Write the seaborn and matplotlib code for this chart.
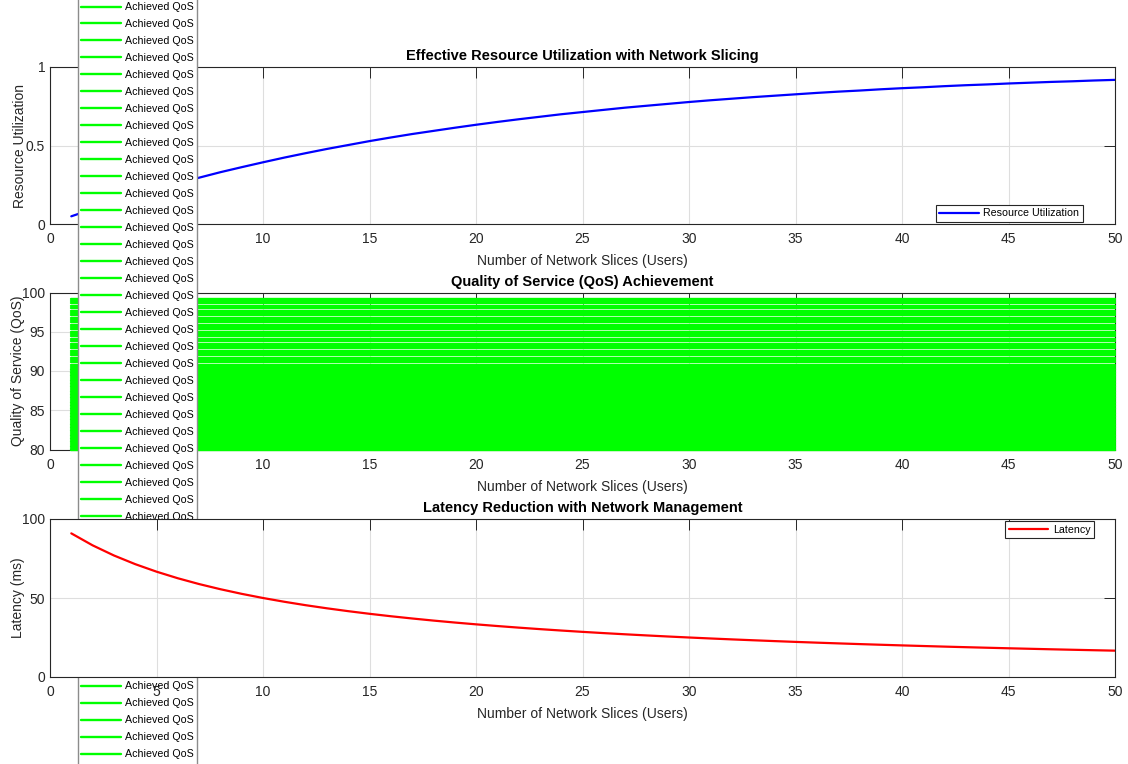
import numpy as np
import pandas as pd
import matplotlib
matplotlib.use("Agg")
import matplotlib.pyplot as plt
import seaborn as sns

# ---------------- data ----------------
slices = list(range(1, 51))

resource_util = [0.049, 0.095, 0.139, 0.181, 0.221, 0.259, 0.295, 0.330, 0.362, 0.393,
                 0.423, 0.451, 0.478, 0.503, 0.528, 0.551, 0.573, 0.593, 0.613, 0.632,
                 0.650, 0.667, 0.683, 0.699, 0.713, 0.727, 0.741, 0.753, 0.765, 0.777,
                 0.788, 0.798, 0.808, 0.817, 0.826, 0.835, 0.843, 0.850, 0.858, 0.865,
                 0.871, 0.878, 0.884, 0.889, 0.895, 0.900, 0.905, 0.909, 0.914, 0.918]

latency_ms = [90.91, 83.33, 76.92, 71.43, 66.67, 62.50, 58.82, 55.56, 52.63, 50.00,
              47.62, 45.45, 43.48, 41.67, 40.00, 38.46, 37.04, 35.71, 34.48, 33.33,
              32.26, 31.25, 30.30, 29.41, 28.57, 27.78, 27.03, 26.32, 25.64, 25.00,
              24.39, 23.81, 23.26, 22.73, 22.22, 21.74, 21.28, 20.83, 20.41, 20.00,
              19.61, 19.23, 18.87, 18.52, 18.18, 17.86, 17.54, 17.24, 16.95, 16.67]

qos_levels = [99.2, 98.9, 98.6, 98.3, 98.0, 97.7, 97.4, 97.1, 96.8, 96.5,
              96.2, 95.9, 95.6, 95.3, 95.0, 94.7, 94.4, 94.1, 93.8, 93.5,
              93.2, 92.9, 92.6, 92.3, 92.0, 91.7, 91.4, 91.1, 90.8,
              90.5, 90.3, 90.1, 89.9, 89.7, 89.5, 89.3, 89.1, 88.9, 88.7,
              88.5, 88.3, 88.1, 87.9, 87.7, 87.5, 87.3, 87.1, 86.9, 86.7,
              86.5, 86.3, 86.1, 85.9, 85.7, 85.5, 85.3, 85.1, 84.9, 84.7,
              84.5, 84.3, 84.1, 83.9, 83.7, 83.5, 83.3, 83.1, 82.9, 82.7,
              82.5, 82.3, 82.1, 81.9, 81.7, 81.5, 81.3, 81.1, 80.9, 80.7,
              80.5, 80.3, 80.1, 79.9]

x_ticks = list(range(0, 51, 5))
ru_ticks, ru_labels = [0, 0.5, 1], ["0", "0.5", "1"]
qos_ticks = [80, 85, 90, 95, 100]
lat_ticks = [0, 50, 100]

xlabel = "Number of Network Slices (Users)"

# ---------------- style ----------------
sns.set_style("white")
plt.rcParams["font.family"] = ["Liberation Sans", "DejaVu Sans"]
DARK = "#262626"
W, H = 1128, 764

fig = plt.figure(figsize=(W / 100, H / 100), dpi=100)

def axpos(left, top, right, bottom):
    return [left / W, 1 - bottom / H, (right - left) / W, (bottom - top) / H]

ax1 = fig.add_axes(axpos(50, 67, 1115, 224))
ax2 = fig.add_axes(axpos(50, 292.5, 1115, 449.5))
ax3 = fig.add_axes(axpos(50, 519, 1115, 677))

def style(ax, ylim, yticks, ylabels, title, ylab, ylab_x):
    ax.set_xlim(0, 50)
    ax.set_ylim(*ylim)
    ax.set_xticks(x_ticks)
    ax.set_yticks(yticks)
    if ylabels is not None:
        ax.set_yticklabels(ylabels)
    ax.grid(True, color="#dedede", lw=0.8)
    ax.tick_params(axis="both", direction="in", length=7.7, width=0.7, colors=DARK,
                   labelsize=10, top=True, right=True, labelcolor=DARK)
    ax.tick_params(axis="x", pad=6)
    ax.tick_params(axis="y", pad=3.5)
    for s in ax.spines.values():
        s.set_visible(True)
        s.set_color(DARK)
        s.set_linewidth(0.8)
    ax.set_title(title, fontsize=10.5, fontweight="bold", color="black", pad=4.8)
    ax.set_xlabel(xlabel, fontsize=10, color=DARK)
    ax.set_ylabel(ylab, fontsize=10, color=DARK)
    ax.yaxis.set_label_coords(ylab_x, 0.5)

# ---- panel 1 ----
sns.lineplot(x=slices, y=resource_util, color="#0000ff", lw=1.6,
             label="Resource Utilization", ax=ax1)
style(ax1, (0, 1), ru_ticks, ru_labels,
      "Effective Resource Utilization with Network Slicing",
      "Resource Utilization", (27 - 50) / 1065)
ax1.xaxis.set_label_coords(0.5, -0.188)

# ---- panel 2 ----
nlines = len(qos_levels)
df_qos = pd.DataFrame({
    "slice": np.tile(slices, nlines),
    "qos": np.repeat(qos_levels, len(slices)),
    "line": np.repeat(np.arange(nlines), len(slices)),
})
sns.lineplot(data=df_qos, x="slice", y="qos", units="line", estimator=None,
             color="#00ff00", lw=1.7, legend=False, sort=False, ax=ax2)
qos_lines = list(ax2.get_lines())
for ln in qos_lines:
    ln.set_clip_on(False)
    ln.set_zorder(2.6)
style(ax2, (80, 100), qos_ticks, None,
      "Quality of Service (QoS) Achievement",
      "Quality of Service (QoS)", (25 - 50) / 1065)
ax2.xaxis.set_label_coords(0.5, -0.193)

# ---- panel 3 ----
sns.lineplot(x=slices, y=latency_ms, color="#ff0000", lw=1.6, label="Latency", ax=ax3)
style(ax3, (0, 100), lat_ticks, None,
      "Latency Reduction with Network Management",
      "Latency (ms)", (25 - 50) / 1065)
ax3.xaxis.set_label_coords(0.5, -0.193)

LEG_FS = 7.7
leg_kw = dict(fontsize=LEG_FS, frameon=True, fancybox=False, framealpha=1,
              edgecolor=DARK, borderpad=0.35, handlelength=3.7,
              handletextpad=0.4, borderaxespad=0, labelcolor="black")
l1 = ax1.legend(loc="lower right", bbox_to_anchor=((1083 - 50) / 1065, 2 / 157), **leg_kw)
l1.get_frame().set_linewidth(0.8)
l3 = ax3.legend(loc="upper right", bbox_to_anchor=((1094 - 50) / 1065, (677 - 521) / 158), **leg_kw)
l3.get_frame().set_linewidth(0.8)

# ---- big legend of panel 2 (overflowing the figure like the original) ----
labels = ["Achieved QoS"] * nlines
fs_px = LEG_FS * 100 / 72
target_pitch = 16.98
ref_idx, ref_y = 19, 23.5   # entry index and its pixel row (from top)

def make_big(ls, ycen):
    kw = dict(leg_kw)
    kw.update(edgecolor="#8c8c8c", labelspacing=ls, borderpad=0.3)
    lg = ax2.legend(qos_lines, labels, loc="center left",
                    bbox_to_anchor=(78 / W, ycen), bbox_transform=fig.transFigure, **kw)
    lg.get_frame().set_linewidth(1.0)
    lg.set_zorder(5)
    return lg

def handle_y(lg, i):
    h = lg.legend_handles[i]
    pts = h.get_transform().transform(h.get_xydata())
    return H - pts[0, 1]

ls = 0.5
ycen = 1 - 372.0 / H
big = make_big(ls, ycen)
fig.canvas.draw()
p0 = handle_y(big, 1) - handle_y(big, 0)
ls = ls + (target_pitch - p0) / fs_px
big.remove()
big = make_big(ls, ycen)
fig.canvas.draw()
dy = handle_y(big, ref_idx) - ref_y
ycen = ycen + dy / H
big.remove()
big = make_big(ls, ycen)

fig.savefig("out.png", dpi=100)
